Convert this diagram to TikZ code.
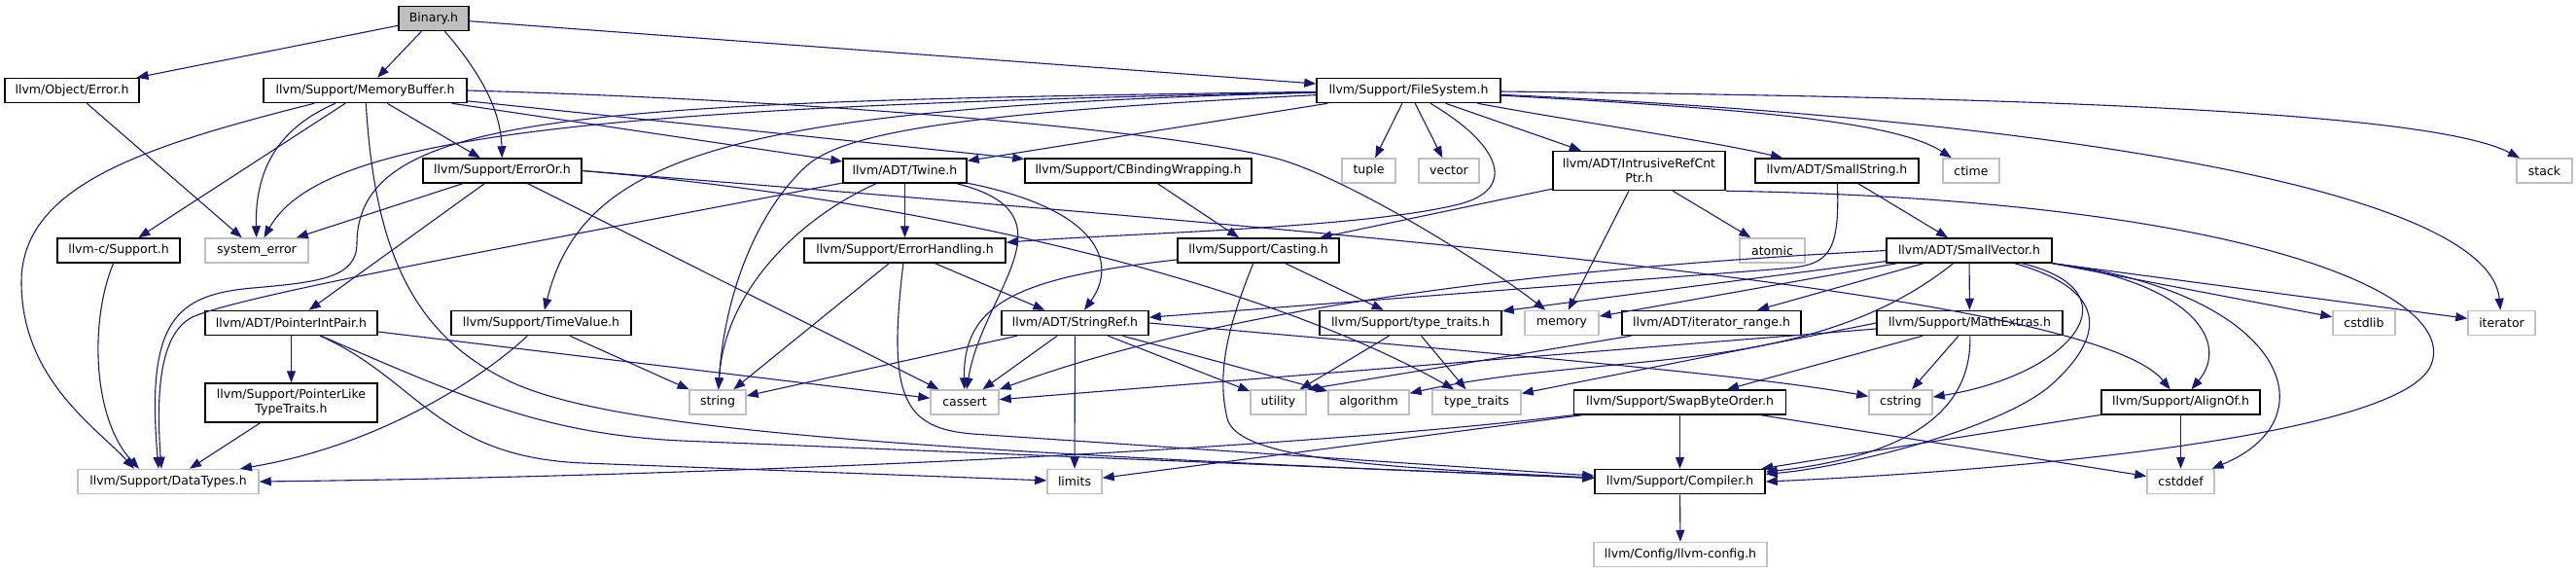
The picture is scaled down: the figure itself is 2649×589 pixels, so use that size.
\documentclass[tikz,border=0pt]{standalone}
\usepackage{fontspec}
\setmainfont{DejaVu Sans}
\usepackage{xcolor}
\definecolor{EdgeNavy}{RGB}{25,25,112}
\definecolor{BorderGray}{RGB}{191,191,191}
\definecolor{FillGray}{RGB}{191,191,191}
\usepackage{tikz}
\usetikzlibrary{arrows.meta, positioning}
\tikzset{
  % Header box (documented file)
  hbox/.style={
    rectangle, draw=black, line width=1.5pt,
    fill=white,
    align=center,
    minimum height=25pt,
    font=\fontsize{12.5}{15}\selectfont,
    inner sep=2pt
  },
  % Box variants
  hbox ext/.style={hbox, draw=BorderGray},
  hbox root/.style={hbox, fill=FillGray},
  hbox tall/.style={hbox, minimum height=40pt},
  % Include arrow
  incarr/.style={-{Triangle[length=12pt,width=9pt]}, line width=1.1pt, EdgeNavy},
}

\begin{document}
\begin{tikzpicture}[x=1pt, y=1pt, align=center]
  \useasboundingbox (0,0) rectangle (2649,-589);

  %% Rank 1: the file itself
  \node[hbox root, minimum width=72pt] (Binary) at (446,-19) {Binary.h};

  %% Rank 2
  \node[hbox, minimum width=138pt] (ObjError) at (74,-93) {llvm/Object/Error.h};
  \node[hbox, minimum width=209pt] (MemBuf) at (375.5,-93) {llvm/Support/MemoryBuffer.h};
  \node[hbox, minimum width=189pt] (FileSys) at (1448.5,-93) {llvm/Support/FileSystem.h};

  %% Rank 3
  \node[hbox, minimum width=163pt] (ErrorOr) at (516.5,-175.5) {llvm/Support/ErrorOr.h};
  \node[hbox, minimum width=127pt] (Twine) at (930.5,-175.5) {llvm/ADT/Twine.h};
  \node[hbox, minimum width=233pt] (CBind) at (1170.5,-175.5) {llvm/Support/CBindingWrapping.h};
  \node[hbox ext, minimum width=55pt] (Tuple) at (1407.5,-175.5) {tuple};
  \node[hbox ext, minimum width=62pt] (Vector) at (1490,-175.5) {vector};
  \node[hbox tall, minimum width=177pt] (IntrRef) at (1685.5,-175.5) {llvm/ADT/IntrusiveRefCnt\\Ptr.h};
  \node[hbox, minimum width=168pt] (SmallStr) at (1889,-175.5) {llvm/ADT/SmallString.h};
  \node[hbox ext, minimum width=58pt] (CTime) at (2027,-175.5) {ctime};
  \node[hbox ext, minimum width=57pt] (Stack) at (2616.5,-175.5) {stack};

  %% Rank 4
  \node[hbox, minimum width=126pt] (CSupport) at (122,-257.5) {llvm-c/Support.h};
  \node[hbox ext, minimum width=106pt] (SysErr) at (264,-257.5) {system\_error};
  \node[hbox, minimum width=207pt] (ErrHand) at (930.5,-257.5) {llvm/Support/ErrorHandling.h};
  \node[hbox, minimum width=166pt] (Casting) at (1294,-257.5) {llvm/Support/Casting.h};
  \node[hbox ext, minimum width=67pt] (Atomic) at (1822.5,-257.5) {atomic};
  \node[hbox, minimum width=170pt] (SmallVec) at (2025,-257.5) {llvm/ADT/SmallVector.h};

  %% Rank 5
  \node[hbox, minimum width=177pt] (PtrIntPair) at (299.5,-332) {llvm/ADT/PointerIntPair.h};
  \node[hbox, minimum width=185pt] (TimeValue) at (556.5,-332) {llvm/Support/TimeValue.h};
  \node[hbox, minimum width=151pt] (StringRef) at (1105.5,-332) {llvm/ADT/StringRef.h};
  \node[hbox, minimum width=187pt] (TypeTraitsH) at (1450.5,-332) {llvm/Support/type\_traits.h};
  \node[hbox ext, minimum width=76pt] (Memory) at (1606,-332) {memory};
  \node[hbox, minimum width=184pt] (IterRange) at (1760,-332) {llvm/ADT/iterator\_range.h};
  \node[hbox, minimum width=191pt] (MathExtras) at (2025.5,-332) {llvm/Support/MathExtras.h};
  \node[hbox ext, minimum width=64pt] (CStdlib) at (2431,-332) {cstdlib};
  \node[hbox ext, minimum width=69pt] (Iterator) at (2572.5,-332) {iterator};

  %% Rank 6
  \node[hbox tall, minimum width=177pt] (PtrLike) at (299.5,-414) {llvm/Support/PointerLike\\TypeTraits.h};
  \node[hbox ext, minimum width=58pt] (String) at (738,-413.5) {string};
  \node[hbox ext, minimum width=70pt] (CAssert) at (992,-413.5) {cassert};
  \node[hbox ext, minimum width=57pt] (Utility) at (1314.5,-413.5) {utility};
  \node[hbox ext, minimum width=83pt] (Algorithm) at (1407.5,-413.5) {algorithm};
  \node[hbox ext, minimum width=91pt] (TypeTraits) at (1518.5,-413.5) {type\_traits};
  \node[hbox, minimum width=218pt] (SwapByte) at (1727.5,-413.5) {llvm/Support/SwapByteOrder.h};
  \node[hbox ext, minimum width=65pt] (CString) at (1954.5,-413.5) {cstring};
  \node[hbox, minimum width=163pt] (AlignOf) at (2242.5,-413.5) {llvm/Support/AlignOf.h};

  %% Rank 7
  \node[hbox ext, minimum width=186pt] (DataTypes) at (173,-495) {llvm/Support/DataTypes.h};
  \node[hbox ext, minimum width=56pt] (Limits) at (1105,-495) {limits};
  \node[hbox, minimum width=175pt] (Compiler) at (1727.5,-495) {llvm/Support/Compiler.h};
  \node[hbox ext, minimum width=69pt] (CStddef) at (2242.5,-495) {cstddef};

  %% Rank 8
  \node[hbox ext, minimum width=178pt] (LlvmConfig) at (1728,-570) {llvm/Config/llvm-config.h};

  %% Binary.h
  \draw[incarr] (Binary) -- (ObjError);
  \draw[incarr] (Binary) -- (MemBuf);
  \draw[incarr] (Binary) .. controls (490,-70) and (515,-110) .. (ErrorOr);
  \draw[incarr] (Binary) -- (FileSys);

  %% Object/Error.h
  \draw[incarr] (ObjError) -- (SysErr);

  %% MemoryBuffer.h
  \draw[incarr] (MemBuf) -- (ErrorOr);
  \draw[incarr] (MemBuf) .. controls (290,-130) and (262,-170) .. (SysErr);
  \draw[incarr] (MemBuf) -- (CSupport);
  \draw[incarr] (MemBuf) .. controls (150,-150) and (22,-190) .. (22,-290)
    .. controls (22,-390) and (100,-440) .. ([xshift=-35pt]DataTypes.north);
  \draw[incarr] (MemBuf) -- (Twine);
  \draw[incarr] (MemBuf) -- (CBind);
  \draw[incarr] (MemBuf.east) .. controls (900,-105) and (1240,-140) .. (1320,-165)
    .. controls (1400,-190) and (1540,-280) .. (Memory);
  \draw[incarr] (MemBuf) .. controls (385,-250) and (420,-340) .. (520,-390)
    .. controls (620,-440) and (900,-462) .. (Compiler);

  %% FileSystem.h
  \draw[incarr] (FileSys) -- (Twine);
  \draw[incarr] (FileSys) .. controls (1545,-150) and (1560,-195) .. (1500,-210)
    .. controls (1400,-235) and (1150,-240) .. (ErrHand);
  \draw[incarr] (FileSys) .. controls (750,-110) and (600,-160) .. (TimeValue);
  \draw[incarr] (FileSys) .. controls (600,-105) and (368,-115) .. (367,-250)
    .. controls (367,-285) and (330,-290) .. (260,-296)
    .. controls (180,-303) and (150,-330) .. ([xshift=-10pt]DataTypes.north);
  \draw[incarr] (FileSys) .. controls (1000,-115) and (870,-135) .. (830,-170)
    .. controls (780,-215) and (745,-300) .. (String);
  \draw[incarr] (FileSys) .. controls (600,-110) and (330,-140) .. (SysErr);
  \draw[incarr] (FileSys) -- (Tuple);
  \draw[incarr] (FileSys) -- (Vector);
  \draw[incarr] (FileSys) -- (IntrRef);
  \draw[incarr] (FileSys) .. controls (1620,-125) and (1760,-145) .. (SmallStr);
  \draw[incarr] (FileSys) .. controls (1800,-112) and (1950,-125) .. (CTime);
  \draw[incarr] (FileSys) .. controls (2100,-100) and (2500,-115) .. (Stack);
  \draw[incarr] (FileSys) .. controls (2150,-125) and (2560,-200) .. (Iterator);

  %% ErrorOr.h
  \draw[incarr] (ErrorOr) -- (SysErr);
  \draw[incarr] (ErrorOr) -- (PtrIntPair);
  \draw[incarr] (ErrorOr) -- (CAssert);
  \draw[incarr] (ErrorOr.east) .. controls (1400,-240) and (2150,-300) .. (AlignOf);
  \draw[incarr] (ErrorOr.east) .. controls (950,-205) and (1300,-290) .. (TypeTraits);

  %% Twine.h
  \draw[incarr] (Twine) -- (ErrHand);
  \draw[incarr] (Twine) .. controls (1130,-215) and (1150,-270) .. (StringRef);
  \draw[incarr] (Twine) .. controls (1110,-220) and (1010,-300) .. (CAssert);
  \draw[incarr] (Twine) .. controls (820,-225) and (745,-300) .. (String);
  \draw[incarr] (Twine) .. controls (600,-240) and (260,-300) .. (200,-325)
    .. controls (165,-340) and (160,-400) .. ([xshift=-7pt]DataTypes.north);

  %% CBindingWrapping.h
  \draw[incarr] (CBind) -- (Casting);

  %% IntrusiveRefCntPtr.h
  \draw[incarr] (IntrRef) -- (Casting);
  \draw[incarr] (IntrRef) -- (Memory);
  \draw[incarr] (IntrRef) -- (Atomic);
  \draw[incarr] (IntrRef.south east) .. controls (2300,-205) and (2530,-300) .. (2500,-375)
    .. controls (2470,-450) and (2050,-485) .. (Compiler.east);

  %% SmallString.h
  \draw[incarr] (SmallStr) -- (SmallVec);
  \draw[incarr] (SmallStr) .. controls (1892,-262) and (1880,-272) .. (1835,-276) -- (StringRef);

  %% ErrorHandling.h
  \draw[incarr] (ErrHand) -- (StringRef);
  \draw[incarr] (ErrHand) -- (String);
  \draw[incarr] (ErrHand) .. controls (912,-410) and (930,-440) .. (1000,-446) -- (Compiler);

  %% Casting.h
  \draw[incarr] (Casting) -- (TypeTraitsH);
  \draw[incarr] (Casting) .. controls (1050,-285) and (990,-310) .. (CAssert);
  \draw[incarr] (Casting) .. controls (1265,-330) and (1250,-380) .. (1262,-430)
    .. controls (1272,-470) and (1400,-480) .. (Compiler);

  %% SmallVector.h
  \draw[incarr] (SmallVec) -- (TypeTraitsH);
  \draw[incarr] (SmallVec) -- (Memory);
  \draw[incarr] (SmallVec) -- (IterRange);
  \draw[incarr] (SmallVec) -- (MathExtras);
  \draw[incarr] (SmallVec.south east) -- (CStdlib);
  \draw[incarr] (SmallVec.south east) -- (Iterator);
  \draw[incarr] (SmallVec.south east) .. controls (2250,-290) and (2295,-350) .. (AlignOf);
  \draw[incarr] (SmallVec.south east) .. controls (2350,-300) and (2400,-430) .. (CStddef);
  \draw[incarr] (SmallVec) .. controls (2200,-300) and (2130,-385) .. (CString);
  \draw[incarr] (SmallVec) .. controls (2175,-300) and (2160,-350) .. (2110,-395)
    .. controls (2060,-440) and (1900,-480) .. (Compiler);
  \draw[incarr] (SmallVec.west) .. controls (1700,-270) and (1300,-300) .. (CAssert);
  \draw[incarr] (SmallVec) .. controls (1860,-390) and (1650,-360) .. (Algorithm);

  %% MathExtras.h
  \draw[incarr] (MathExtras) -- (SwapByte);
  \draw[incarr] (MathExtras) -- (CString);
  \draw[incarr] (MathExtras) .. controls (2028,-430) and (1950,-470) .. (Compiler);
  \draw[incarr] ([yshift=-6pt]MathExtras.west) -- (CAssert);
  \draw[incarr] (MathExtras.west) -- (TypeTraits);

  %% type_traits.h and iterator_range.h
  \draw[incarr] (TypeTraitsH) -- (Utility);
  \draw[incarr] (TypeTraitsH) -- (TypeTraits);
  \draw[incarr] ([xshift=10pt]IterRange.south west) -- (Utility.north east);

  %% StringRef.h
  \draw[incarr] (StringRef) -- (String);
  \draw[incarr] (StringRef) -- (CAssert);
  \draw[incarr] (StringRef) -- (Limits);
  \draw[incarr] (StringRef) -- (Utility);
  \draw[incarr] (StringRef) -- (Algorithm);
  \draw[incarr] (StringRef.east) .. controls (1500,-360) and (1800,-385) .. (CString);

  %% PointerIntPair.h
  \draw[incarr] (PtrIntPair) -- (PtrLike);
  \draw[incarr] ([yshift=-9pt]PtrIntPair.east) -- (CAssert);
  \draw[incarr] (PtrIntPair) .. controls (430,-390) and (450,-470) .. (600,-476) -- (Limits);
  \draw[incarr] (PtrIntPair) .. controls (480,-410) and (560,-446) .. (700,-453) -- (Compiler);

  %% PointerLikeTypeTraits.h, TimeValue.h, llvm-c/Support.h
  \draw[incarr] (PtrLike) -- ([xshift=22pt]DataTypes.north);
  \draw[incarr] (TimeValue) .. controls (500,-385) and (395,-457) .. ([xshift=74pt]DataTypes.north);
  \draw[incarr] (TimeValue) -- (String);
  \draw[incarr] (CSupport) .. controls (92,-330) and (95,-430) .. ([xshift=-30pt]DataTypes.north);

  %% SwapByteOrder.h
  \draw[incarr] (SwapByte) -- (Compiler);
  \draw[incarr] (SwapByte) -- (CStddef);
  \draw[incarr] (SwapByte) -- (Limits);
  \draw[incarr] (SwapByte) .. controls (1300,-465) and (700,-490) .. (DataTypes.east);

  %% AlignOf.h and Compiler.h
  \draw[incarr] (AlignOf) -- (Compiler);
  \draw[incarr] (AlignOf) -- (CStddef);
  \draw[incarr] (Compiler) -- (LlvmConfig);

\end{tikzpicture}
\end{document}
